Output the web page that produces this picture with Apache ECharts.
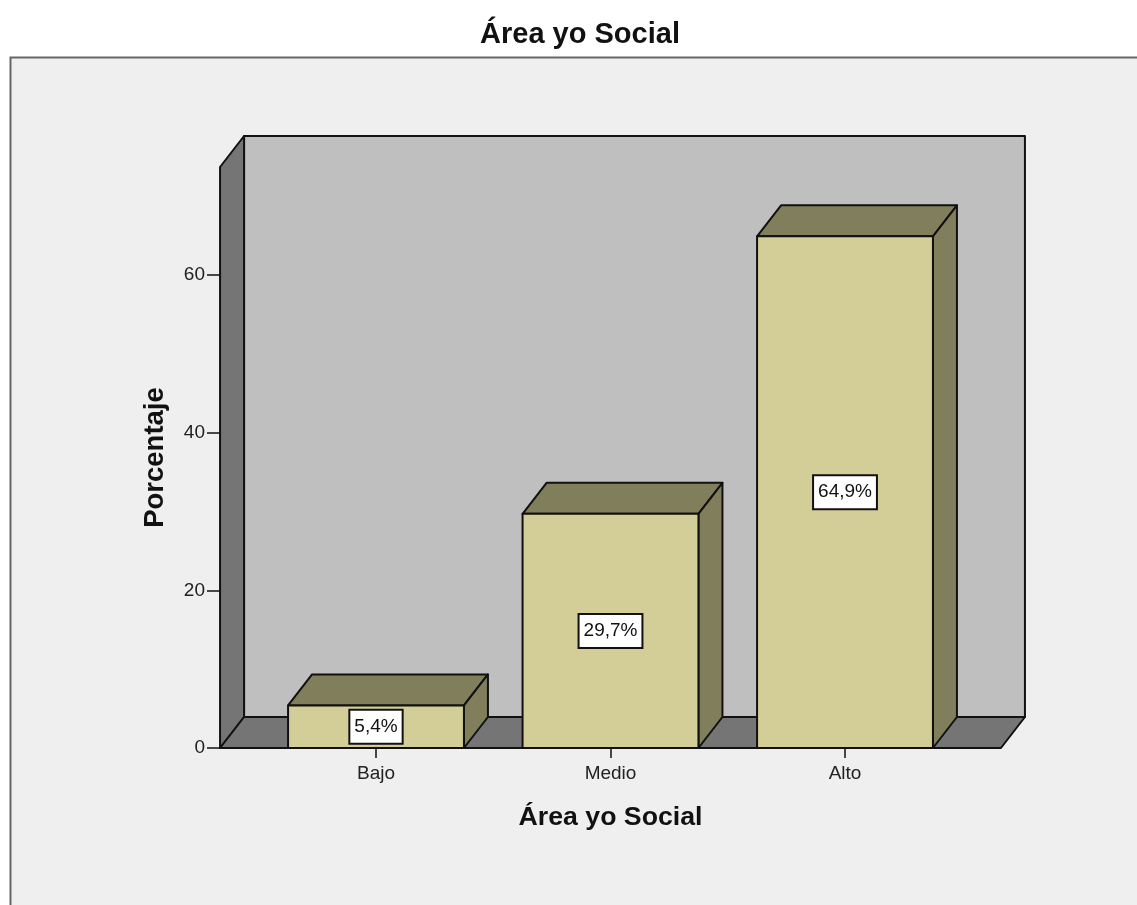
<!DOCTYPE html>
<html>
<head>
<meta charset="utf-8">
<style>html,body{margin:0;padding:0;background:#fff;overflow:hidden}#c{width:1137px;height:905px}</style>
<script src="https://cdn.jsdelivr.net/npm/echarts@6/dist/echarts.min.js"></script>
</head>
<body>
<div id="c"></div>
<script>
const titleText = 'Área yo Social';
const xName = 'Área yo Social';
const yName = 'Porcentaje';
const categories = ['Bajo', 'Medio', 'Alto'];
const values = [5.4, 29.7, 64.9];
const yMax = 73.7;
const yInterval = 20;
const FONT = '"Liberation Sans", Arial, sans-serif';
const DX = 24, DY = -31;
const C = {front:'#d3ce97', dark:'#817e5c', back:'#bfbfbf', wall:'#757575', line:'#111'};

const chart = echarts.init(document.getElementById('c'), null, {renderer:'canvas'});

function poly(points, fill) {
  return {type:'polygon', shape:{points}, style:{fill, stroke:C.line, lineWidth:2, lineJoin:'round'}};
}
function renderWalls(params, api) {
  const band = api.size([1, 0])[0];
  const x0 = api.coord([0, 0])[0] - band * 0.665;
  const x1 = api.coord([2, 0])[0] + band * 0.665;
  const yb = api.coord([0, 0])[1];
  const yt = api.coord([0, yMax])[1];
  return {type:'group', children:[
    poly([[x0+DX,yt+DY],[x1+DX,yt+DY],[x1+DX,yb+DY],[x0+DX,yb+DY]], C.back),
    poly([[x0,yb],[x0,yt],[x0+DX,yt+DY],[x0+DX,yb+DY]], C.wall),
    poly([[x0,yb],[x1,yb],[x1+DX,yb+DY],[x0+DX,yb+DY]], C.wall)
  ]};
}
function renderBar(params, api) {
  const i = api.value(0), v = api.value(1);
  const band = api.size([1, 0])[0];
  const w = band * 0.75;
  const c = api.coord([i, 0]);
  const top = api.coord([i, v])[1];
  const mid = api.coord([i, v / 2])[1];
  const l = c[0] - w / 2, r = c[0] + w / 2, b = c[1];
  return {type:'group', children:[
    poly([[l,top],[r,top],[r+DX,top+DY],[l+DX,top+DY]], C.dark),
    poly([[r,top],[r+DX,top+DY],[r+DX,b+DY],[r,b]], C.dark),
    poly([[l,top],[r,top],[r,b],[l,b]], C.front),
    {type:'text', z2:10, style:{
      x:c[0], y:mid, align:'center', verticalAlign:'middle',
      text:v.toFixed(1).replace('.', ',') + '%',
      font:'19px ' + FONT, fill:'#111',
      backgroundColor:'#fff', borderColor:'#111', borderWidth:2,
      padding:[8,4,5,4]
    }}
  ]};
}

chart.setOption({
  animation:false,
  backgroundColor:'#fff',
  title:{text:titleText, left:580, top:20, textAlign:'center', padding:0,
    textStyle:{fontFamily:FONT, fontWeight:'bold', fontSize:29, color:'#111'}},
  graphic:[{type:'rect', z:-10, shape:{x:10.5, y:57.5, width:1300, height:1000},
    style:{fill:'#efefef', stroke:'#666', lineWidth:2}}],
  grid:{left:258.75, width:703.5, top:167, height:581},
  xAxis:{type:'category', data:categories, boundaryGap:true,
    name:xName, nameLocation:'middle', nameGap:56,
    nameTextStyle:{fontFamily:FONT, fontWeight:'bold', fontSize:26.7, color:'#111'},
    axisLine:{show:false},
    axisTick:{show:true, alignWithLabel:true, length:10, lineStyle:{color:'#111', width:1.5}},
    axisLabel:{fontFamily:FONT, fontSize:19, color:'#222', margin:16}},
  yAxis:{type:'value', min:0, max:yMax, interval:yInterval, offset:38.75,
    name:yName, nameLocation:'middle', nameGap:51, nameRotate:90,
    nameTextStyle:{fontFamily:FONT, fontWeight:'bold', fontSize:27.5, color:'#111'},
    axisLine:{show:false}, splitLine:{show:false},
    axisTick:{show:true, length:13, lineStyle:{color:'#111', width:1.5}},
    axisLabel:{fontFamily:FONT, fontSize:19, color:'#222', margin:15, padding:[4,0,0,0],
      showMaxLabel:false}},
  series:[
    {type:'custom', z:1, silent:true, renderItem:renderWalls, data:[[0,0]], encode:{x:0,y:1}, clip:false},
    {type:'custom', z:2, silent:true, renderItem:renderBar,
      data:values.map((v,i)=>[i,v]), encode:{x:0,y:1}, clip:false}
  ]
});
</script>
</body>
</html>
